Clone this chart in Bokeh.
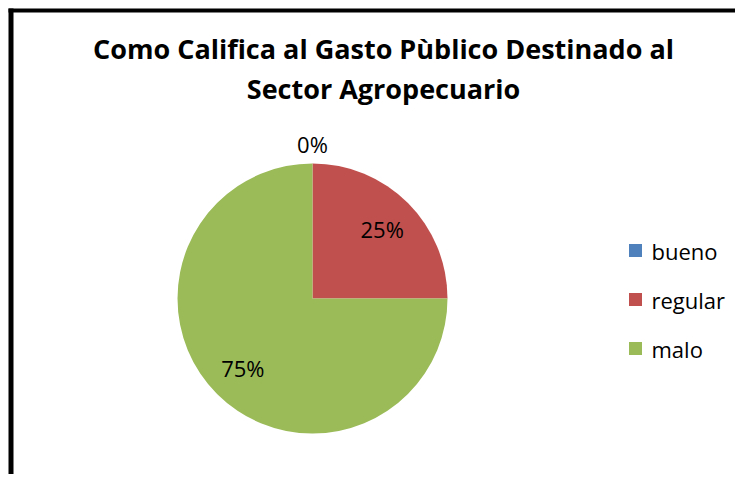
import math
from bokeh.plotting import figure
from bokeh.models import Range1d
from bokeh.core.properties import value
from bokeh.embed import file_html
from bokeh.resources import INLINE

# ---- data ----
categories = ["bueno", "regular", "malo"]
percents = [0, 25, 75]
colors = ["#4F81BD", "#C0504D", "#9BBB59"]
title_lines = ["Como Califica al Gasto Pùblico Destinado al", "Sector Agropecuario"]

W, H = 735, 474
FONT = "Open Sans"

p = figure(width=W, height=H, output_backend="svg", toolbar_location=None,
           x_range=Range1d(0, W), y_range=Range1d(0, H), min_border=0)
p.axis.visible = False
p.grid.visible = False
p.outline_line_color = None
p.background_fill_color = "white"
p.border_fill_color = "white"

# pie geometry
cx, cy, r = 312, 176, 135

# wedges, clockwise from 12 o'clock
total = sum(percents)
starts, ends, mids = [], [], []
a = math.pi / 2
for v in percents:
    sweep = 2 * math.pi * v / total
    starts.append(a - sweep)
    ends.append(a)
    mids.append(a - sweep / 2)
    a -= sweep

for s, e, c, v in zip(starts, ends, colors, percents):
    if v > 0:
        p.wedge(x=cx, y=cy, radius=r, start_angle=s, end_angle=e,
                fill_color=c, line_color=None)

# data labels
lx, ly, lt = [], [], []
for m, v in zip(mids, percents):
    rr = r + 20 if v == 0 else r * 0.73
    lx.append(cx + rr * math.cos(m))
    ly.append(cy + rr * math.sin(m))
    lt.append(f"{v}%")
p.text(x=lx, y=ly, text=lt, text_font=value(FONT), text_font_size="22px",
       text_align="center", text_baseline="middle", text_color="black")

# title
p.text(x=[383, 383], y=[426, 386], text=title_lines, text_font=value(FONT),
       text_font_size="27px", text_font_style="bold", text_align="center",
       text_baseline="alphabetic", text_color="black")

# legend
leg_y = [224 - i * 49 for i in range(len(categories))]
p.rect(x=[635] * len(categories), y=leg_y, width=13, height=13,
       fill_color=colors, line_color=None)
p.text(x=[651] * len(categories), y=leg_y, text=categories, text_font=value(FONT),
       text_font_size="22px", text_align="left", text_baseline="middle",
       text_color="black")

# chart border (left and top visible)
p.segment(x0=[10.5, 8], y0=[0, 464], x1=[10.5, W], y1=[466, 464],
          line_color="black", line_width=[5, 4])

open("out.html", "w").write(file_html(p, INLINE))
